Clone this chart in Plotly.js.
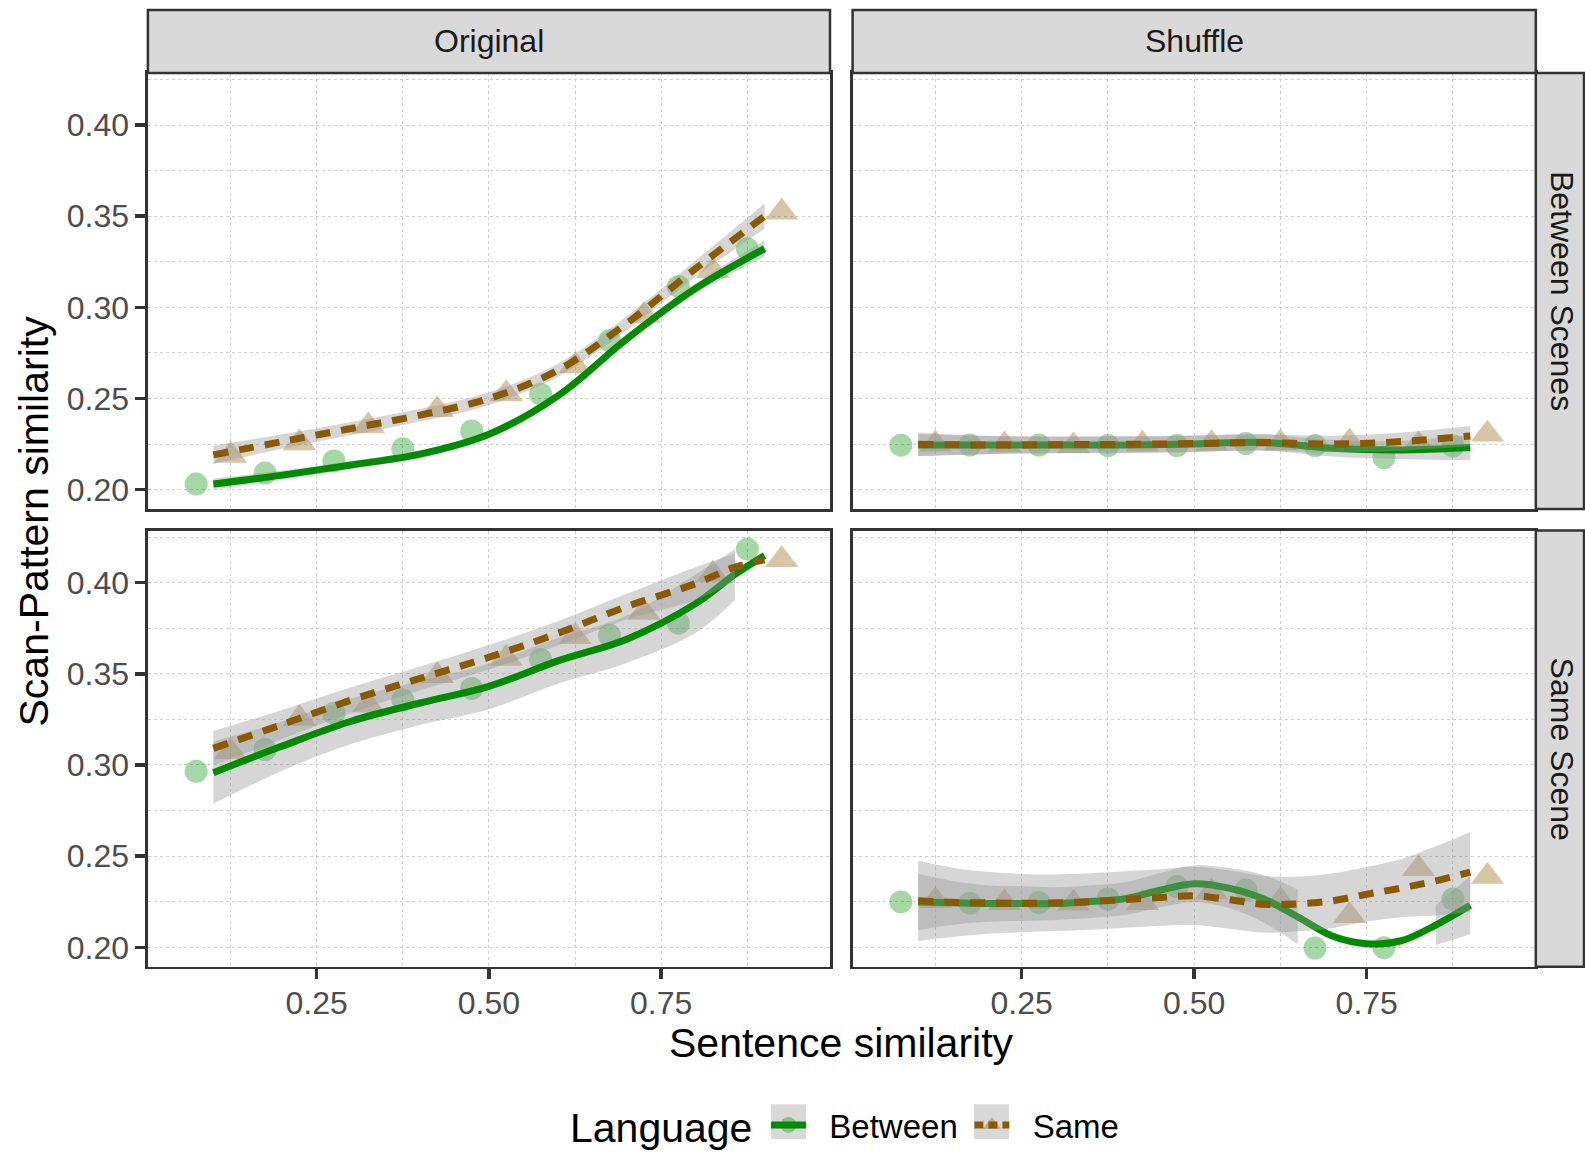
<!DOCTYPE html>
<html><head><meta charset="utf-8">
<script src="https://cdn.plot.ly/plotly-3.0.1.min.js"></script>
<style>html,body{margin:0;padding:0;background:#fff}#chart{width:1585px;height:1153px}</style>
</head><body><div id="chart"></div>
<script>
// ---------------- data ----------------
const binX = [0.1,0.2,0.3,0.4,0.5,0.6,0.7,0.8,0.9];
const facetCols = ['Original','Shuffle'];
const facetRows = ['Between Scenes','Same Scene'];
const groups = ['Between','Same'];
const legendTitle = 'Language';

// binned means (points)
const TL_between = [0.2031,0.2091,0.2158,0.2224,0.2322,0.2524,0.2818,0.3115,0.3322];
const TL_same    = [0.2187,0.2256,0.2349,0.2438,0.2525,0.2678,0.2956,0.3200,0.3522];
const TR_between = [0.2244,0.2245,0.2245,0.2242,0.2242,0.2253,0.2242,0.2176,0.2240];
const TR_same    = [0.2249,0.2245,0.2240,0.2249,0.2253,0.2256,0.2262,0.2247,0.2304];
const BL_between = [0.2965,0.3085,0.3284,0.3356,0.3420,0.3578,0.3711,0.3778,0.4184];
const BL_same    = [0.3073,0.3255,0.3327,0.3489,0.3584,0.3704,0.3836,0.4045,0.4125];
const BR_between = [0.2249,0.2242,0.2245,0.2265,0.2333,0.2315,0.1996,0.1998,0.2265];
const BR_same    = [0.2255,0.2244,0.2242,0.2244,0.2304,0.2256,0.2173,0.2431,0.2389];

// smooth fits and their half-widths (se band)
const smoothX_TL = [0.1,0.2,0.3,0.4,0.5,0.6,0.7,0.8,0.9];
const TL_fitB = [0.2031,0.2080,0.2136,0.2195,0.2304,0.2515,0.2827,0.3104,0.3322];
const TL_seB  = [0.003,0.0025,0.0022,0.002,0.002,0.002,0.0022,0.0028,0.0045];
const TL_fitS = [0.2191,0.2264,0.2336,0.2409,0.2500,0.2655,0.2913,0.3213,0.3500];
const TL_seS  = [0.005,0.004,0.0036,0.0035,0.0035,0.0035,0.0038,0.0045,0.007];

const smoothX_TR = [0.1,0.2,0.3,0.4,0.5,0.6,0.7,0.8,0.9];
const TR_fitB = [0.22455,0.22455,0.22455,0.22455,0.2251,0.2260,0.2227,0.2218,0.2231];
const TR_seB  = [0.006,0.005,0.0045,0.0045,0.0045,0.0045,0.0045,0.005,0.007];
const TR_fitS = [0.2249,0.2245,0.2247,0.2249,0.2253,0.2258,0.2251,0.2264,0.2295];
const TR_seS  = [0.0065,0.005,0.0045,0.0045,0.0045,0.0045,0.0045,0.005,0.0055];

const smoothX_BL = [0.1,0.2,0.3,0.4,0.5,0.6,0.7,0.8,0.857,0.9];
const BL_fitB = [0.2958,0.3104,0.3240,0.3340,0.3431,0.3571,0.3690,0.3885,0.4045,0.4149];
const BL_seB  = [0.017,0.0135,0.0125,0.012,0.0125,0.0125,0.013,0.016,0.014,null];
const BL_fitS = [0.3091,0.3222,0.3356,0.3475,0.3591,0.3722,0.3869,0.3995,0.4085,0.4125];
const BL_seS  = [0.0095,0.008,0.007,0.0065,0.0067,0.0067,0.007,0.009,0.0075,null];

const smoothX_BR = [0.1,0.15,0.2,0.25,0.3,0.35,0.4,0.45,0.5,0.55,0.6,0.65,0.7,0.75,0.8,0.85,0.9];
const BR_fitB = [0.2249,0.2244,0.2240,0.2240,0.2240,0.2251,0.2267,0.2313,0.2349,0.2325,0.2267,0.2167,0.2062,0.2020,0.2036,0.2122,0.2231];
const BR_seB  = [0.0155,0.012,0.010,0.0095,0.009,0.009,0.009,0.0095,0.010,0.011,0.013,0.015,null,null,null,0.011,0.016];
const BR_fitS = [0.2255,0.2247,0.2244,0.2242,0.2244,0.2251,0.2262,0.2273,0.2282,0.2262,0.2236,0.2238,0.2255,0.2291,0.2325,0.2364,0.2413];
const BR_seS  = [0.022,0.019,0.017,0.016,0.0155,0.0155,0.0155,0.0155,0.016,0.016,0.0155,0.015,0.015,0.015,0.016,0.019,0.022];

// ---------------- styles ----------------
const W = 1585, H = 1153;
const FONT = '"Liberation Sans", Arial, Helvetica, sans-serif';
const GREEN = 'rgb(0,139,0)';
const BROWN = 'rgb(139,90,0)';
const PT_GREEN = 'rgba(0,139,0,0.35)';
const PT_BROWN = 'rgba(139,90,0,0.35)';
const BAND = 'rgba(153,153,153,0.4)';
const DODGE = 0.025;

const colPx = [[147.9,830],[852.6,1535.8]];
const rowPx = [[73.3,511.7],[533.3,971.7]];
const dX = a => [a[0]/W, a[1]/W];
const dY = a => [1 - a[1]/H, 1 - a[0]/H];

const panels = [
  {xa:'x',  ya:'y',  pB:TL_between, pS:TL_same, sx:smoothX_TL, fB:TL_fitB, eB:TL_seB, fS:TL_fitS, eS:TL_seS},
  {xa:'x2', ya:'y2', pB:TR_between, pS:TR_same, sx:smoothX_TR, fB:TR_fitB, eB:TR_seB, fS:TR_fitS, eS:TR_seS},
  {xa:'x3', ya:'y3', pB:BL_between, pS:BL_same, sx:smoothX_BL, fB:BL_fitB, eB:BL_seB, fS:BL_fitS, eS:BL_seS},
  {xa:'x4', ya:'y4', pB:BR_between, pS:BR_same, sx:smoothX_BR, fB:BR_fitB, eB:BR_seB, fS:BR_fitS, eS:BR_seS}
];

function ribbon(xs, fit, se, xa, ya){
  const segs = []; let seg = [];
  for (let i=0;i<xs.length;i++){
    if (se[i] == null){ if (seg.length) segs.push(seg); seg = []; continue; }
    seg.push(i);
  }
  if (seg.length) segs.push(seg);
  const tr = [];
  segs.forEach(s => {
    const x = s.map(i => xs[i]);
    tr.push({x, y: s.map(i => fit[i]-se[i]), xaxis:xa, yaxis:ya, mode:'lines',
      line:{width:0, shape:'spline', color:'rgba(0,0,0,0)'}, hoverinfo:'skip', showlegend:false});
    tr.push({x, y: s.map(i => fit[i]+se[i]), xaxis:xa, yaxis:ya, mode:'lines',
      line:{width:0, shape:'spline', color:'rgba(0,0,0,0)'}, fill:'tonexty', fillcolor:BAND,
      hoverinfo:'skip', showlegend:false});
  });
  return tr;
}

const data = [];
panels.forEach(p => {
  data.push({x: binX.map(v => v - DODGE), y: p.pB, xaxis:p.xa, yaxis:p.ya, mode:'markers',
    marker:{symbol:'circle', size:23, color:PT_GREEN, line:{width:0}}, showlegend:false, hoverinfo:'skip'});
  data.push({x: binX.map(v => v + DODGE), y: p.pS, xaxis:p.xa, yaxis:p.ya, mode:'markers',
    marker:{symbol:'triangle-up', size:29, color:PT_BROWN, line:{width:0}}, showlegend:false, hoverinfo:'skip'});
});
panels.forEach(p => {
  ribbon(p.sx, p.fB, p.eB, p.xa, p.ya).forEach(t => data.push(t));
  data.push({x: p.sx, y: p.fB, xaxis:p.xa, yaxis:p.ya, mode:'lines',
    line:{color:GREEN, width:7, shape:'spline'}, showlegend:false, hoverinfo:'skip'});
  ribbon(p.sx, p.fS, p.eS, p.xa, p.ya).forEach(t => data.push(t));
  data.push({x: p.sx, y: p.fS, xaxis:p.xa, yaxis:p.ya, mode:'lines',
    line:{color:BROWN, width:7, shape:'spline', dash:'15px,11px'}, showlegend:false, hoverinfo:'skip'});
});
// legend entries (leading no-break spaces reproduce the key-to-label gap)
data.push({x:[null], y:[null], xaxis:'x', yaxis:'y', name:'\u00a0\u00a0' + groups[0] + '\u2009', mode:'lines+markers',
  line:{color:GREEN, width:7}, marker:{symbol:'circle', size:23, color:PT_GREEN}, showlegend:true});
data.push({x:[null], y:[null], xaxis:'x', yaxis:'y', name:'\u00a0\u00a0' + groups[1], mode:'lines+markers',
  line:{color:BROWN, width:7, dash:'9px,5px'}, marker:{symbol:'triangle-up', size:29, color:PT_BROWN}, showlegend:true});

const GRID = '#cfcfcf';
function xAxis(c, r){
  const bottom = r === 1;
  return {domain: dX(colPx[c]), anchor: ['y','y2','y3','y4'][r*2+c], range:[0.005,0.995],
    tick0:0, dtick:0.25, tickformat:'.2f', showgrid:true, gridcolor:GRID, griddash:'dot', gridwidth:1,
    minor:{tick0:0, dtick:0.125, showgrid:true, gridcolor:GRID, griddash:'dot', gridwidth:1},
    showline:true, mirror:true, linecolor:'#333333', linewidth:2.5, zeroline:false,
    ticks: bottom ? 'outside' : '', ticklen:10, tickwidth:3.5, tickcolor:'#333333', ticklabelstandoff:-4,
    showticklabels: bottom, tickfont:{family:FONT, size:32, color:'#4d4d4d'}, fixedrange:true};
}
function yAxis(c, r){
  const left = c === 0;
  return {domain: dY(rowPx[r]), anchor: ['x','x2','x3','x4'][r*2+c], range:[0.1894,0.4286],
    tick0:0, dtick:0.05, tickformat:'.2f', showgrid:true, gridcolor:GRID, griddash:'dot', gridwidth:1,
    minor:{tick0:0, dtick:0.025, showgrid:true, gridcolor:GRID, griddash:'dot', gridwidth:1},
    showline:true, mirror:true, linecolor:'#333333', linewidth:2.5, zeroline:false,
    ticks: left ? 'outside' : '', ticklen:10, tickwidth:3.5, tickcolor:'#333333',
    showticklabels: left, tickfont:{family:FONT, size:32, color:'#4d4d4d'}, fixedrange:true};
}

const shapes = [];
const annotations = [];
facetCols.forEach((lab, c) => {
  shapes.push({type:'rect', xref:'paper', yref:'paper', x0:colPx[c][0]/W, x1:colPx[c][1]/W,
    y0:1-73.3/H, y1:1-10.1/H, fillcolor:'#d9d9d9', line:{color:'#333333', width:2.5}, layer:'above'});
  annotations.push({xref:'paper', yref:'paper', x:(colPx[c][0]+colPx[c][1])/2/W, y:1-41.7/H,
    text:lab, showarrow:false, xanchor:'center', yanchor:'middle', font:{family:FONT, size:32, color:'#1a1a1a'}});
});
facetRows.forEach((lab, r) => {
  shapes.push({type:'rect', xref:'paper', yref:'paper', x0:1535.8/W, x1:1584/W,
    y0:1-rowPx[r][1]/H, y1:1-rowPx[r][0]/H, fillcolor:'#d9d9d9', line:{color:'#333333', width:2.5}, layer:'above'});
  annotations.push({xref:'paper', yref:'paper', x:1562/W, y:1-(rowPx[r][0]+rowPx[r][1])/2/H,
    text:lab, showarrow:false, textangle:90, xanchor:'center', yanchor:'middle', font:{family:FONT, size:32, color:'#1a1a1a'}});
});
annotations.push({xref:'paper', yref:'paper', x:33.5/W, y:1-523.7/H, text:'Scan-Pattern similarity',
  showarrow:false, textangle:-90, xanchor:'center', yanchor:'middle', font:{family:FONT, size:41, color:'#000'}});
annotations.push({xref:'paper', yref:'paper', x:841.5/W, y:1-1048.6/H, text:'Sentence similarity',
  showarrow:false, xanchor:'center', yanchor:'middle', font:{family:FONT, size:41, color:'#000'}});
// legend title
annotations.push({xref:'paper', yref:'paper', x:568/W, y:1-1134/H, text:legendTitle,
  showarrow:false, xanchor:'left', yanchor:'middle', font:{family:FONT, size:41, color:'#000'}});
// legend key backgrounds
[[771,806],[974,1009]].forEach(k => shapes.push({type:'rect', xref:'paper', yref:'paper',
  x0:k[0]/W, x1:k[1]/W, y0:1-1145/H, y1:1-1110/H, fillcolor:'#d9d9d9', line:{width:0}, layer:'below'}));

const layout = {
  width:W, height:H, margin:{l:0,r:0,t:0,b:0}, paper_bgcolor:'#fff', plot_bgcolor:'#fff',
  font:{family:FONT, color:'#000'},
  xaxis:xAxis(0,0), xaxis2:xAxis(1,0), xaxis3:xAxis(0,1), xaxis4:xAxis(1,1),
  yaxis:yAxis(0,0), yaxis2:yAxis(1,0), yaxis3:yAxis(0,1), yaxis4:yAxis(1,1),
  shapes, annotations,
  showlegend:true,
  legend:{orientation:'h', x:766/W, xanchor:'left', y:1-1131/H, yanchor:'middle', traceorder:'normal',
    font:{family:FONT, size:33, color:'#000'}, itemwidth:35, bgcolor:'rgba(0,0,0,0)', itemsizing:'trace'}
};

Plotly.newPlot('chart', data, layout, {staticPlot:true, displayModeBar:false});
</script>
</body></html>
